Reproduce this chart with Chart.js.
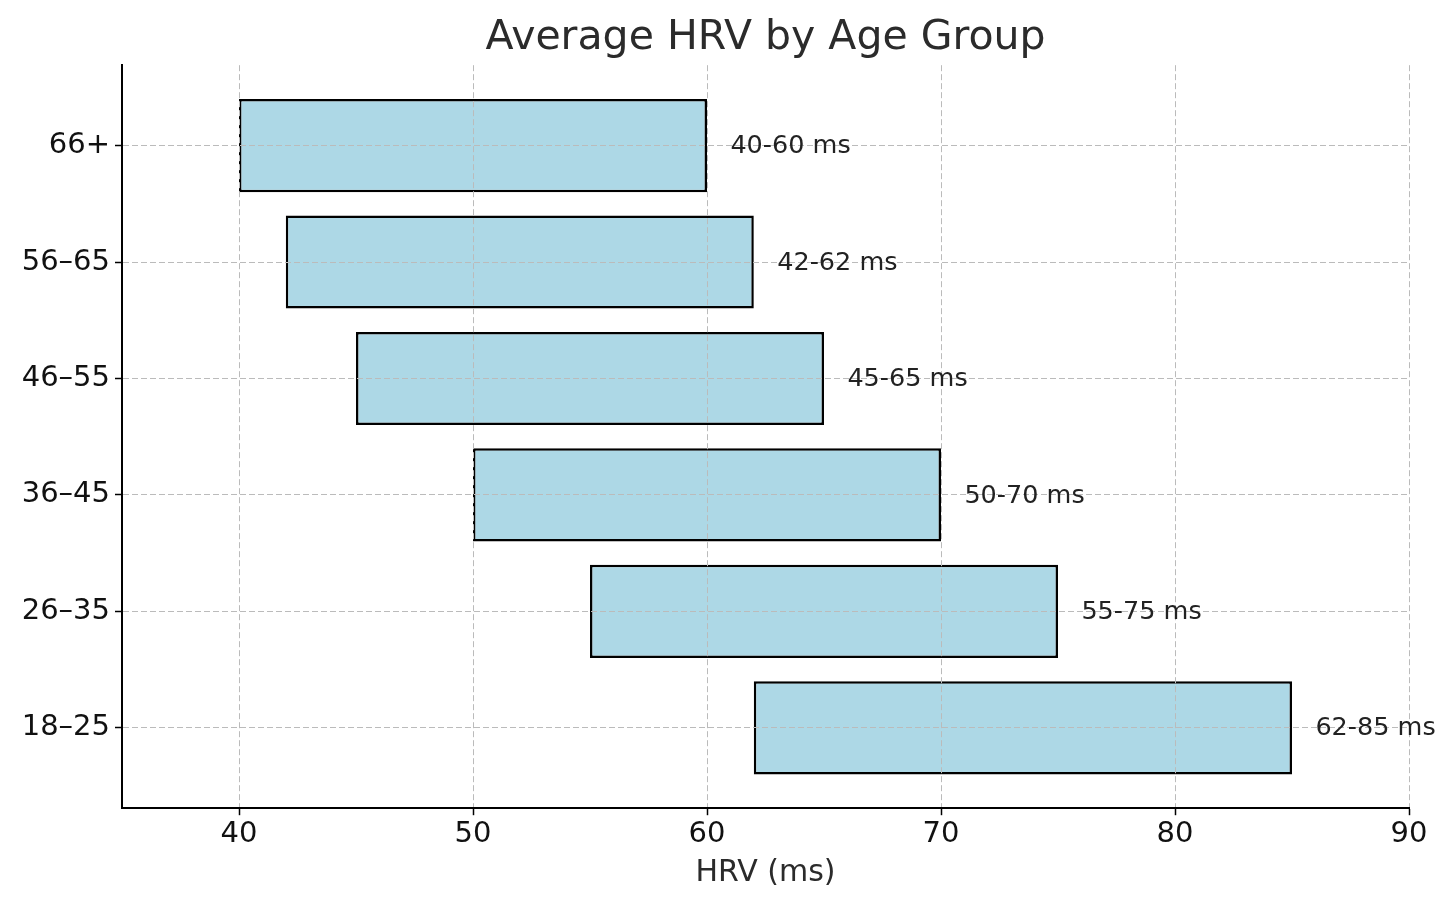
<!DOCTYPE html>
<html>
<head>
<meta charset="utf-8">
<script src="https://cdn.jsdelivr.net/npm/chart.js@4/dist/chart.umd.min.js"></script>
<style>
  html, body { margin: 0; padding: 0; background: #fff; }
  #wrap { width: 1456px; height: 909px; }
</style>
</head>
<body>
<div id="wrap"><canvas id="hrv"></canvas></div>
<script>
// age groups, bottom to top (y index = position)
const ageGroups = ['18–25', '26–35', '36–45', '46–55', '56–65', '66+'];
const hrvLow  = [62, 55, 50, 45, 42, 40];
const hrvHigh = [85, 75, 70, 65, 62, 60];
const xTicks = [40, 50, 60, 70, 80, 90];

const FONT = "'DejaVu Sans', sans-serif";

// "40-60 ms" text right of each bar
const rangeLabels = {
  id: 'rangeLabels',
  afterDraw(chart) {
    const { ctx, scales: { x, y } } = chart;
    ctx.save();
    ctx.font = '25.5px ' + FONT;
    ctx.fillStyle = '#222';
    ctx.textAlign = 'left';
    ctx.textBaseline = 'middle';
    ageGroups.forEach((g, i) => {
      const px = x.getPixelForValue(hrvHigh[i] + 1);
      const py = y.getPixelForValue(i) + 1;
      ctx.fillText(`${hrvLow[i]}-${hrvHigh[i]} ms`, px, py);
    });
    ctx.restore();
  }
};

const gridOpts = {
  z: 1,
  offset: false,
  color: '#bbbbbb',
  lineWidth: 1,
  tickColor: '#000',
  tickLength: 7,
  tickWidth: 1.5
};
// border.dash is what dashes the grid lines in v4
const borderOpts = { display: true, color: '#000', width: 2, z: 2, dash: [6, 3] };

new Chart(document.getElementById('hrv'), {
  type: 'bar',
  data: {
    datasets: [{
      data: ageGroups.map((g, i) => ({ x: [hrvLow[i], hrvHigh[i]], y: i })),
      backgroundColor: '#ADD8E6',
      borderColor: '#000',
      borderWidth: 2.5,
      borderSkipped: false,
      barPercentage: 0.8,
      categoryPercentage: 1.0
    }]
  },
  options: {
    indexAxis: 'y',
    responsive: true,
    maintainAspectRatio: false,
    animation: false,
    layout: { padding: { left: 0, right: 47, top: 0, bottom: 14 } },
    plugins: {
      legend: { display: false },
      tooltip: { enabled: false },
      title: {
        display: true,
        fullSize: false,
        text: 'Average HRV by Age Group',
        color: '#2b2b2b',
        font: { family: FONT, size: 41, weight: 'normal' },
        padding: { top: 14, bottom: 2 }
      }
    },
    scales: {
      x: {
        type: 'linear',
        min: 35, max: 90,
        afterBuildTicks: s => { s.ticks = xTicks.map(v => ({ value: v })); },
        grid: gridOpts,
        border: borderOpts,
        ticks: { color: '#111', padding: 2, font: { family: FONT, size: 29 } },
        title: {
          display: true,
          text: 'HRV (ms)',
          color: '#2b2b2b',
          font: { family: FONT, size: 30 },
          padding: { top: 1, bottom: 4 }
        }
      },
      y: {
        type: 'linear',
        offset: false,
        min: -0.69, max: 5.69,
        afterBuildTicks: s => { s.ticks = ageGroups.map((g, i) => ({ value: i })); },
        afterFit: s => { s.width = 122; },
        grid: gridOpts,
        border: borderOpts,
        ticks: {
          color: '#111',
          padding: 5,
          font: { family: FONT, size: 29 },
          callback: v => ageGroups[v]
        }
      }
    }
  },
  plugins: [rangeLabels]
});
</script>
</body>
</html>
